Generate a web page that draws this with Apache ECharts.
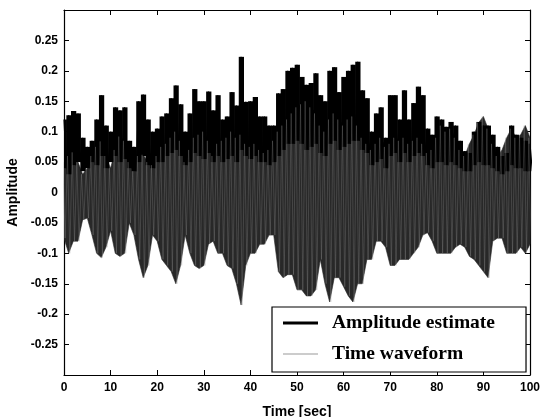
<!DOCTYPE html>
<html>
<head>
<meta charset="utf-8">
<script src="https://cdn.jsdelivr.net/npm/echarts@6/dist/echarts.min.js"></script>
<style>
html,body{margin:0;padding:0;background:#fff;}
#chart{width:541px;height:417px;}
</style>
</head>
<body>
<div id="chart"></div>
<script>
// Sample times (sec)
const timeSec = [0,1,2,3,4,5,6,7,8,9,10,11,12,13,14,15,16,17,18,19,20,21,22,23,24,25,26,27,28,29,30,31,32,33,34,35,36,37,38,39,40,41,42,43,44,45,46,47,48,49,50,51,52,53,54,55,56,57,58,59,60,61,62,63,64,65,66,67,68,69,70,71,72,73,74,75,76,77,78,79,80,81,82,83,84,85,86,87,88,89,90,91,92,93,94,95,96,97,98,99,100];

// Amplitude estimate: upper and lower extent per second
const ampHigh = [0.12,0.127,0.134,0.13,0.09,0.075,0.085,0.12,0.16,0.11,0.1,0.14,0.135,0.14,0.085,0.075,0.15,0.161,0.12,0.1,0.105,0.125,0.13,0.155,0.176,0.145,0.1,0.13,0.17,0.15,0.15,0.166,0.135,0.16,0.12,0.125,0.165,0.143,0.223,0.149,0.15,0.157,0.125,0.125,0.11,0.11,0.163,0.17,0.2,0.205,0.21,0.19,0.177,0.18,0.196,0.16,0.15,0.2,0.206,0.165,0.19,0.2,0.21,0.215,0.168,0.155,0.1,0.13,0.14,0.09,0.16,0.16,0.12,0.168,0.12,0.147,0.174,0.16,0.105,0.095,0.125,0.12,0.108,0.116,0.11,0.085,0.068,0.065,0.1,0.116,0.11,0.11,0.095,0.075,0.06,0.065,0.11,0.095,0.09,0.085,0.08];
const ampLow = [0.04,0.03,0.045,0.05,0.035,0.04,0.05,0.045,0.06,0.04,0.05,0.06,0.05,0.055,0.04,0.035,0.05,0.06,0.045,0.04,0.05,0.05,0.06,0.065,0.07,0.06,0.045,0.05,0.065,0.06,0.055,0.065,0.05,0.06,0.05,0.055,0.06,0.05,0.07,0.06,0.055,0.06,0.05,0.05,0.045,0.05,0.06,0.07,0.08,0.08,0.085,0.08,0.07,0.075,0.08,0.065,0.06,0.08,0.085,0.07,0.075,0.08,0.085,0.085,0.07,0.065,0.045,0.05,0.055,0.04,0.06,0.065,0.05,0.065,0.05,0.06,0.065,0.06,0.045,0.04,0.05,0.05,0.045,0.05,0.045,0.04,0.035,0.035,0.045,0.05,0.045,0.045,0.04,0.035,0.03,0.035,0.045,0.04,0.04,0.035,0.035];

// Time waveform: positive and negative peaks per second
const waveHigh = [0.05,0.06,0.066,0.05,0.03,0.04,0.06,0.075,0.084,0.06,0.04,0.07,0.092,0.085,0.05,0.035,0.06,0.062,0.05,0.045,0.06,0.075,0.08,0.09,0.1,0.085,0.05,0.07,0.09,0.095,0.1,0.085,0.06,0.08,0.085,0.09,0.1,0.09,0.095,0.08,0.075,0.08,0.07,0.065,0.07,0.085,0.1,0.11,0.12,0.13,0.14,0.145,0.15,0.14,0.13,0.11,0.1,0.12,0.13,0.12,0.11,0.12,0.125,0.11,0.09,0.08,0.07,0.08,0.09,0.075,0.08,0.09,0.085,0.09,0.08,0.085,0.09,0.08,0.065,0.07,0.09,0.11,0.1,0.105,0.09,0.07,0.06,0.08,0.095,0.115,0.125,0.105,0.08,0.06,0.07,0.09,0.105,0.09,0.095,0.11,0.09];
const waveLow = [-0.075,-0.1,-0.08,-0.08,-0.045,-0.042,-0.07,-0.1,-0.107,-0.09,-0.063,-0.1,-0.105,-0.1,-0.05,-0.07,-0.11,-0.14,-0.12,-0.07,-0.08,-0.11,-0.12,-0.13,-0.15,-0.12,-0.07,-0.1,-0.12,-0.125,-0.12,-0.085,-0.08,-0.1,-0.1,-0.12,-0.125,-0.15,-0.185,-0.12,-0.1,-0.1,-0.085,-0.085,-0.07,-0.07,-0.13,-0.14,-0.135,-0.135,-0.16,-0.16,-0.17,-0.17,-0.16,-0.11,-0.15,-0.18,-0.14,-0.14,-0.155,-0.17,-0.18,-0.15,-0.15,-0.11,-0.11,-0.08,-0.08,-0.09,-0.12,-0.12,-0.11,-0.11,-0.11,-0.1,-0.09,-0.07,-0.066,-0.08,-0.1,-0.1,-0.1,-0.1,-0.09,-0.085,-0.09,-0.105,-0.11,-0.12,-0.13,-0.14,-0.08,-0.075,-0.075,-0.1,-0.1,-0.1,-0.09,-0.1,-0.085];

const yTickLabels = ['0.25','0.2','0.15','0.1','0.05','0','-0.05','-0.1','-0.15','-0.2','-0.25'];
const seriesNames = ['Amplitude estimate','Time waveform'];

function zigzag(hi, lo, offHi, offLo) {
  const out = [];
  for (let i = 0; i < timeSec.length; i++) {
    out.push([timeSec[i] + offHi, hi[i]]);
    out.push([timeSec[i] + offLo, lo[i]]);
  }
  return out;
}
const perSecond = timeSec.map((t, i) => [t, ampLow[i], ampHigh[i]]);
const tMin = timeSec[0], tMax = timeSec[timeSec.length - 1];

const axisFont = {fontFamily: 'Liberation Sans, Arial, sans-serif', fontWeight: 'bold', color: '#000'};
const chart = echarts.init(document.getElementById('chart'), null, {renderer: 'canvas'});
chart.setOption({
  animation: false,
  backgroundColor: '#fff',
  grid: {left: 64, right: 11, top: 10, bottom: 42, outerBoundsMode: 'none', containLabel: false},
  legend: {
    left: 272, top: 307,
    orient: 'vertical',
    backgroundColor: '#fff',
    borderColor: '#000', borderWidth: 1.2,
    padding: [6, 31, 8, 11],
    itemGap: 11,
    itemWidth: 35, itemHeight: 10,
    textStyle: {fontFamily: 'Liberation Serif, Times New Roman, serif', fontWeight: 'bold', fontSize: 19.5, color: '#000', padding: [0, 0, 0, 9]},
    data: [
      {name: seriesNames[0], icon: 'path://M0,4 L35,4 L35,7 L0,7 Z', itemStyle: {color: '#000'}},
      {name: seriesNames[1], icon: 'path://M0,5 L35,5 L35,6 L0,6 Z', itemStyle: {color: '#9a9a9a'}}
    ]
  },
  xAxis: [{
    type: 'value', min: 0, max: 100, interval: 10,
    name: 'Time [sec]', nameLocation: 'middle', nameGap: 30,
    nameTextStyle: Object.assign({fontSize: 14}, axisFont),
    axisLine: {onZero: false, lineStyle: {color: '#000', width: 1.2}},
    axisTick: {inside: true, length: 5, lineStyle: {color: '#000'}},
    axisLabel: Object.assign({fontSize: 12, margin: 7}, axisFont),
    splitLine: {show: false}
  }, {
    type: 'value', min: 0, max: 100, interval: 10, position: 'top',
    axisLine: {onZero: false, lineStyle: {color: '#000', width: 1.2}},
    axisTick: {inside: true, length: 5, lineStyle: {color: '#000'}},
    axisLabel: {show: false}, splitLine: {show: false}
  }],
  yAxis: [{
    type: 'value', min: -0.3, max: 0.3, interval: 0.05,
    name: 'Amplitude', nameLocation: 'middle', nameGap: 34, nameRotate: 90,
    nameTextStyle: Object.assign({fontSize: 14}, axisFont),
    axisLine: {show: true, onZero: false, lineStyle: {color: '#000', width: 1.2}},
    axisTick: {show: true, inside: true, length: 5, lineStyle: {color: '#000'}},
    axisLabel: Object.assign({fontSize: 12, margin: 6, formatter: function (v) {
      const s = String(Number(v.toFixed(2)));
      return yTickLabels.indexOf(s) >= 0 ? s : '';
    }}, axisFont),
    splitLine: {show: false}
  }, {
    type: 'value', min: -0.3, max: 0.3, interval: 0.05, position: 'right',
    axisLine: {show: true, onZero: false, lineStyle: {color: '#000', width: 1.2}},
    axisTick: {show: true, inside: true, length: 5, lineStyle: {color: '#000'}},
    axisLabel: {show: false}, splitLine: {show: false}
  }],
  series: [{
    // dense band of the time waveform between its peaks
    name: 'waveBand', type: 'custom', xAxisIndex: 0, yAxisIndex: 0, clip: true,
    data: [[0]],
    renderItem: function (params, api) {
      const pts = [];
      for (let i = 0; i < timeSec.length; i++) pts.push(api.coord([timeSec[i], waveHigh[i]]));
      for (let i = timeSec.length - 1; i >= 0; i--) pts.push(api.coord([timeSec[i], waveLow[i]]));
      return {type: 'polygon', shape: {points: pts}, style: {fill: 'rgb(40,40,40)', stroke: 'rgb(40,40,40)', lineWidth: 0.6}};
    },
    z: 1
  }, {
    // amplitude estimate band, drawn as per-second columns
    name: 'ampBand', type: 'custom', xAxisIndex: 0, yAxisIndex: 0, clip: true,
    data: perSecond,
    renderItem: function (params, api) {
      const t = api.value(0);
      const p1 = api.coord([Math.max(tMin, t - 0.5), api.value(2)]);
      const p2 = api.coord([Math.min(tMax, t + 0.5), api.value(1)]);
      return {type: 'rect', shape: {x: p1[0], y: p1[1], width: p2[0] - p1[0] + 0.6, height: p2[1] - p1[1]}, style: {fill: '#000'}};
    },
    z: 2
  }, {
    name: seriesNames[0], type: 'line', xAxisIndex: 0, yAxisIndex: 0,
    showSymbol: false, symbol: 'none', clip: true,
    lineStyle: {color: '#000', width: 1.2},
    itemStyle: {color: '#000'},
    data: zigzag(ampHigh, ampLow, 0, 0.5),
    z: 3
  }, {
    name: seriesNames[1], type: 'line', xAxisIndex: 0, yAxisIndex: 0,
    showSymbol: false, symbol: 'none', clip: true,
    lineStyle: {color: 'rgb(150,150,150)', width: 0.7, opacity: 0.4},
    itemStyle: {color: '#9a9a9a'},
    data: zigzag(waveHigh, waveLow, -0.25, 0.25),
    z: 4
  }]
});
</script>
</body>
</html>
